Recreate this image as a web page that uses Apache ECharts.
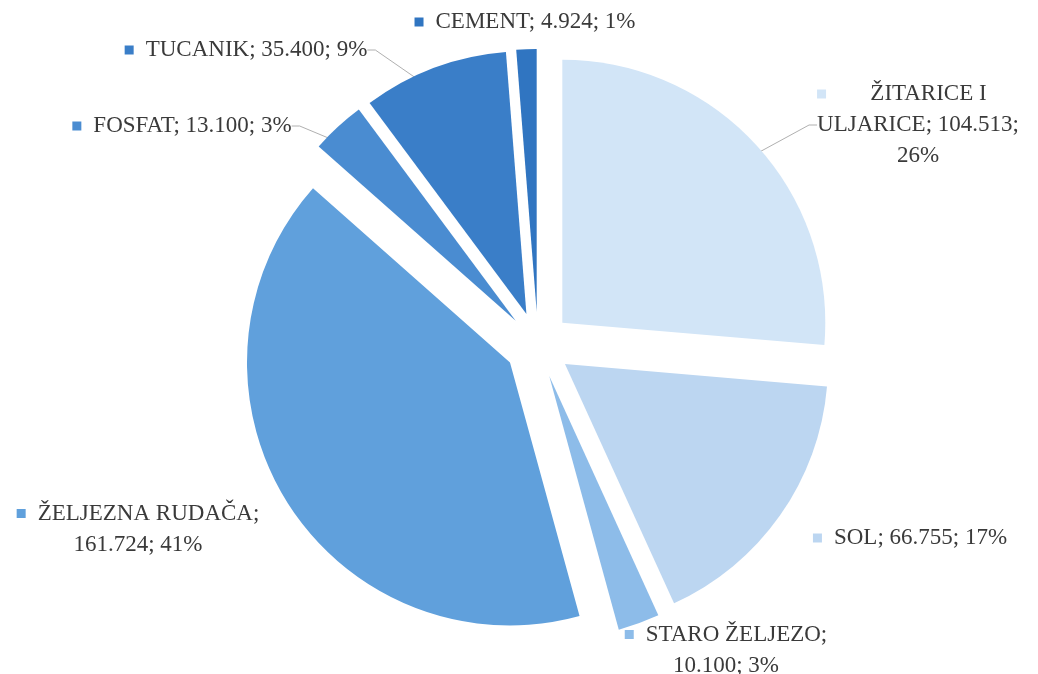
<!DOCTYPE html>
<html>
<head>
<meta charset="utf-8">
<script src="https://cdn.jsdelivr.net/npm/echarts@6/dist/echarts.min.js"></script>
<style>
html, body { margin: 0; padding: 0; background: #fff; }
#pie { width: 1038px; height: 674px; }
</style>
</head>
<body>
<div id="pie"></div>
<script>
// cargo types, clockwise from 12 o'clock
var names = ['ŽITARICE I ULJARICE', 'SOL', 'STARO ŽELJEZO', 'ŽELJEZNA RUDAČA', 'FOSFAT', 'TUCANIK', 'CEMENT'];
var values = [104513, 66755, 10100, 161724, 13100, 35400, 4924];

var colors = ['#d2e5f7', '#bcd6f1', '#8dbce9', '#60a0dc', '#4a8cd1', '#3a7ec8', '#3075c1'];
// where each label sits (centre of text block), Excel moved them by hand
var labelX = [918, 910, 726, 138, 182, 246, 525];
var labelY = [125, 538, 650, 529, 126, 50, 22];
var wrapWidth = [215, 0, 215, 245, 0, 0, 0];
var showLine = [true, false, false, false, true, true, false];

var FONT = 'Liberation Serif';
var FSIZE = 23;
var CENTER = [538, 345];
var R = 263;

var ctx = document.createElement('canvas').getContext('2d');
ctx.font = FSIZE + 'px "' + FONT + '"';

function fmtNum(v) {
    return String(v).replace(/\B(?=(\d{3})+(?!\d))/g, '.');
}

function wrapText(txt, maxW) {
    if (!maxW) return [txt];
    var words = txt.split(' ');
    var lines = [];
    var cur = '';
    words.forEach(function (w) {
        var t = cur ? cur + ' ' + w : w;
        if (cur && ctx.measureText(t).width > maxW) {
            lines.push(cur);
            cur = w;
        } else {
            cur = t;
        }
    });
    if (cur) lines.push(cur);
    return lines;
}

var rich = {
    g: { width: 12, align: 'left' }
};
colors.forEach(function (c, i) {
    rich['m' + i] = { width: 9, height: 9, backgroundColor: c, align: 'left' };
});

var sliceData = [];
var labelData = [];
names.forEach(function (n, i) {
    sliceData.push({
        name: n,
        value: values[i],
        selected: true,
        itemStyle: { color: colors[i] }
    });
    labelData.push({
        name: n,
        value: values[i],
        labelLine: { show: showLine[i] }
    });
});

var chart = echarts.init(document.getElementById('pie'));
var option = {
    animation: false,
    backgroundColor: '#fff',
    series: [{
        // exploded slices
        type: 'pie',
        z: 3,
        center: CENTER,
        radius: R,
        startAngle: 90,
        clockwise: true,
        selectedMode: 'multiple',
        selectedOffset: 33,
        silent: true,
        data: sliceData,
        itemStyle: { borderWidth: 0 },
        label: { show: false },
        labelLine: { show: false },
        emphasis: { disabled: true }
    }, {
        // same pie, invisible, only carries the data labels
        type: 'pie',
        z: 2,
        center: CENTER,
        radius: R,
        startAngle: 90,
        clockwise: true,
        silent: true,
        avoidLabelOverlap: false,
        data: labelData,
        itemStyle: { color: 'rgba(0,0,0,0)', borderWidth: 0 },
        label: {
            show: true,
            position: 'outside',
            fontFamily: FONT,
            fontSize: FSIZE,
            lineHeight: 31,
            color: '#3a3a3a',
            align: 'center',
            rich: rich,
            formatter: function (p) {
                var txt = p.name + '; ' + fmtNum(p.value) + '; ' + Math.round(p.percent) + '%';
                var lines = wrapText(txt, wrapWidth[p.dataIndex]);
                lines[0] = '{m' + p.dataIndex + '|}{g|}' + lines[0];
                return lines.join('\n');
            }
        },
        labelLine: {
            length: 8,
            length2: 8,
            lineStyle: { color: '#b0b0b0', width: 1 }
        },
        labelLayout: function (p) {
            return {
                x: labelX[p.dataIndex],
                y: labelY[p.dataIndex],
                align: 'center',
                verticalAlign: 'middle'
            };
        },
        emphasis: { disabled: true }
    }]
};
chart.setOption(option);
</script>
</body>
</html>
